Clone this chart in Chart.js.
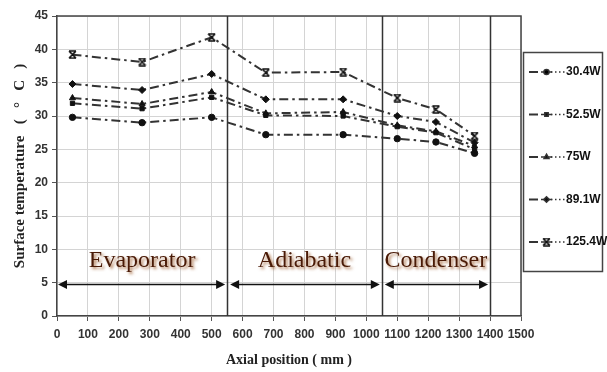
<!DOCTYPE html>
<html>
<head>
<meta charset="utf-8">
<script src="https://cdn.jsdelivr.net/npm/chart.js@4/dist/chart.umd.min.js"></script>
<style>
  html, body { margin: 0; padding: 0; background: #fff; }
  #wrap { width: 607px; height: 372px; }
</style>
</head>
<body>
<div id="wrap"><canvas id="c" width="607" height="372"></canvas></div>
<script>
// Axial measurement positions (mm)
const positions = [50, 275, 500, 675, 925, 1100, 1225, 1350];

// Heat input series
const seriesLabels = ['30.4W', '52.5W', '75W', '89.1W', '125.4W'];
const temp30 = [29.8, 29.0, 29.8, 27.2, 27.2, 26.6, 26.1, 24.4];
const temp52 = [31.9, 31.1, 32.8, 30.1, 30.0, 28.4, 27.5, 25.0];
const temp75 = [32.7, 31.8, 33.6, 30.4, 30.6, 28.6, 27.7, 25.5];
const temp89 = [34.8, 33.9, 36.3, 32.5, 32.5, 30.0, 29.1, 26.0];
const temp125 = [39.2, 38.1, 41.8, 36.5, 36.6, 32.7, 31.0, 27.0];

// Axis ticks
const xTicks = [0, 100, 200, 300, 400, 500, 600, 700, 800, 900, 1000, 1100, 1200, 1300, 1400, 1500];
const yTicks = [0, 5, 10, 15, 20, 25, 30, 35, 40, 45];

// Heat pipe sections
const zoneNames = ['Evaporator', 'Adiabatic', 'Condenser'];
const zoneStart = [0, 550, 1050];
const zoneEnd = [550, 1050, 1400];
const zoneBoundaries = [550, 1050, 1400];

// hourglass marker for the highest heat input
function hourglass() {
  const s = 9, c = document.createElement('canvas');
  c.width = s; c.height = s;
  const g = c.getContext('2d');
  g.strokeStyle = '#111'; g.lineWidth = 1.6;
  g.beginPath();
  g.moveTo(1, 1); g.lineTo(8, 1);
  g.moveTo(1, 8); g.lineTo(8, 8);
  g.moveTo(1, 1); g.lineTo(8, 8);
  g.moveTo(8, 1); g.lineTo(1, 8);
  g.stroke();
  return c;
}
const hg = hourglass();

const seriesValues = [temp30, temp52, temp75, temp89, temp125];
const markerStyles = ['circle', 'rect', 'triangle', 'rectRot', hg];
const markerSizes = [3.2, 3, 3.5, 3.5, 4.5];
const dashPattern = [9, 4, 2.5, 4];

const datasets = seriesLabels.map((label, i) => ({
  label,
  data: positions.map((x, j) => ({ x, y: seriesValues[i][j] })),
  borderColor: '#333',
  borderWidth: 2,
  borderDash: dashPattern,
  pointStyle: markerStyles[i],
  pointRadius: markerSizes[i],
  pointBackgroundColor: '#111',
  pointBorderColor: '#111',
  pointBorderWidth: 1,
  tension: 0,
  fill: false
}));

const tickFont = { family: "'Liberation Sans Narrow', 'Liberation Sans', sans-serif", size: 12, weight: 'bold' };
const titleFont = { family: "'Liberation Serif', 'DejaVu Serif', serif", size: 14, weight: 'bold' };

// frame, section dividers, section labels and legend
const decorations = {
  id: 'decorations',
  beforeDatasetsDraw(chart) {
    const { ctx, chartArea: a, scales: { x, y } } = chart;
    ctx.save();
    ctx.strokeStyle = '#444';
    ctx.lineWidth = 1.5;
    ctx.beginPath();
    ctx.moveTo(a.left, a.top); ctx.lineTo(a.right, a.top); ctx.lineTo(a.right, a.bottom);
    ctx.stroke();
    ctx.strokeStyle = '#333';
    zoneBoundaries.forEach(v => {
      const px = Math.round(x.getPixelForValue(v)) + 0.5;
      ctx.beginPath(); ctx.moveTo(px, a.top); ctx.lineTo(px, a.bottom); ctx.stroke();
    });
    // section arrows
    const ay = Math.round(y.getPixelForValue(4.75)) + 0.5;
    ctx.fillStyle = '#111';
    ctx.strokeStyle = '#111';
    ctx.lineWidth = 1.5;
    zoneNames.forEach((n, i) => {
      const gap = i === 0 ? 1 : 3;
      const x0 = x.getPixelForValue(zoneStart[i]) + gap;
      const x1 = x.getPixelForValue(zoneEnd[i]) - 2;
      ctx.beginPath(); ctx.moveTo(x0 + 6, ay); ctx.lineTo(x1 - 6, ay); ctx.stroke();
      ctx.beginPath(); ctx.moveTo(x0, ay); ctx.lineTo(x0 + 9, ay - 4.5); ctx.lineTo(x0 + 9, ay + 4.5); ctx.closePath(); ctx.fill();
      ctx.beginPath(); ctx.moveTo(x1, ay); ctx.lineTo(x1 - 9, ay - 4.5); ctx.lineTo(x1 - 9, ay + 4.5); ctx.closePath(); ctx.fill();
    });
    // section labels
    ctx.font = "24px 'Liberation Serif', 'DejaVu Serif', serif";
    ctx.textAlign = 'center';
    ctx.textBaseline = 'alphabetic';
    zoneNames.forEach((n, i) => {
      const cx = x.getPixelForValue((zoneStart[i] + zoneEnd[i]) / 2);
      const cy = y.getPixelForValue(7.3);
      ctx.save();
      ctx.shadowColor = 'rgba(150, 80, 30, 0.75)';
      ctx.shadowBlur = 3;
      ctx.shadowOffsetX = 2;
      ctx.shadowOffsetY = 2;
      ctx.fillStyle = '#4a1a06';
      ctx.fillText(n, cx, cy);
      ctx.restore();
    });
    ctx.restore();
  },
  afterDraw(chart) {
    const { ctx } = chart;
    ctx.save();
    const bx = 523, by = 52, bw = 79, bh = 219;
    ctx.strokeStyle = '#444';
    ctx.lineWidth = 1.5;
    ctx.strokeRect(bx + 0.5, by + 0.5, bw, bh);
    chart.data.datasets.forEach((ds, i) => {
      const ry = 72 + i * 42.5;
      ctx.strokeStyle = '#333';
      ctx.lineWidth = 2;
      ctx.beginPath(); ctx.moveTo(529, ry); ctx.lineTo(538, ry); ctx.stroke();
      ctx.setLineDash([1.5, 2.5]);
      ctx.lineWidth = 1.5;
      ctx.beginPath(); ctx.moveTo(551, ry); ctx.lineTo(565, ry); ctx.stroke();
      ctx.setLineDash([]);
      ctx.lineWidth = 1.5;
      ctx.beginPath(); ctx.moveTo(541, ry); ctx.lineTo(552, ry); ctx.stroke();
      Chart.helpers.drawPoint(ctx, {
        pointStyle: ds.pointStyle, radius: ds.pointRadius * 0.8, rotation: 0, borderWidth: 1
      }, 546.5, ry);
      ctx.fillStyle = '#111';
      ctx.font = "bold 12px 'Liberation Sans Narrow', 'Liberation Sans', sans-serif";
      ctx.textAlign = 'left';
      ctx.textBaseline = 'middle';
      ctx.fillText(ds.label, 566, ry);
    });
    ctx.restore();
  }
};

new Chart(document.getElementById('c'), {
  type: 'line',
  data: { datasets },
  options: {
    responsive: false,
    animation: false,
    layout: { padding: { top: 16, right: 86, left: 0, bottom: 0 } },
    plugins: { legend: { display: false }, tooltip: { enabled: false } },
    scales: {
      x: {
        type: 'linear',
        min: xTicks[0], max: xTicks[xTicks.length - 1],
        afterBuildTicks: s => { s.ticks = xTicks.map(v => ({ value: v })); },
        afterFit: s => { s.height = 56; },
        ticks: { font: tickFont, color: '#333', maxRotation: 0, autoSkip: false, padding: 6, callback: v => String(v) },
        grid: { color: '#d4d4d4', lineWidth: 1, tickLength: 5, tickColor: '#555' },
        border: { color: '#444', width: 1.5 },
        title: { display: true, text: 'Axial position ( mm )', font: titleFont, color: '#222', padding: { top: 2, bottom: 3 } }
      },
      y: {
        min: yTicks[0], max: yTicks[yTicks.length - 1],
        afterBuildTicks: s => { s.ticks = yTicks.map(v => ({ value: v })); },
        afterFit: s => { s.width = 57; },
        ticks: { font: tickFont, color: '#333', padding: 4, callback: v => String(v) },
        grid: { color: '#d4d4d4', lineWidth: 1, tickLength: 5, tickColor: '#555' },
        border: { color: '#444', width: 1.5 },
        title: {
          display: true, text: 'Surface temperature   (   °   C   )',
          font: { family: "'Liberation Serif', 'DejaVu Serif', serif", size: 15, weight: 'bold' },
          color: '#222', padding: { top: 11, bottom: 0 }
        }
      }
    }
  },
  plugins: [decorations]
});
</script>
</body>
</html>
